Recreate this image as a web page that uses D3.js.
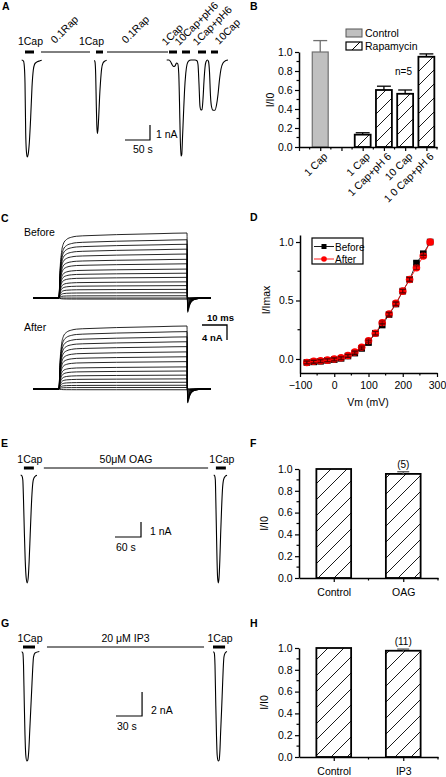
<!DOCTYPE html>
<html><head><meta charset="utf-8">
<script src="https://cdn.jsdelivr.net/npm/d3@7/dist/d3.min.js"></script>
<style>html,body{margin:0;padding:0;background:#fff;}svg{display:block;}</style>
</head><body>
<svg id="fig" width="446" height="777"></svg>
<script>
// ================= DATA =================
// Panel A : whole-cell current (time s, current nA)
const aTrace1 = [[1.4,0],[5,-0.07],[6.6,-0.4],[8,-1.53],[9.4,-4.87],[10.6,-6],[12.4,-6.47],[14.4,-6.27],[16.6,-5.53],[19.4,-3.8],[22,-1.8],[24.6,-0.67],[27,-0.3],[30,-0.17],[38,-0.05],[41.4,-0.01]];
const aTrace2 = [[146.6,-0.03],[148,-0.13],[149.4,-1.0],[150.6,-3.0],[151.6,-4.33],[152.8,-4.9],[154.2,-4.53],[155.6,-3.67],[157.2,-2.47],[159,-1.47],[161.2,-0.6],[164,-0.2],[168,-0.07],[171.4,-0.02]];
const aTrace3 = [[291.4,0],[296,0],[299,-0.1],[302,-0.3],[305,-0.43],[308,-0.4],[311,-0.2],[313.5,-0.25],[315.5,-0.9],[317,-2.8],[318.5,-5.2],[320,-6.4],[321.5,-6.3],[323,-5.2],[325,-3.6],[327,-2.1],[329.5,-0.9],[332,-0.3],[335,-0.08],[340,0],[348,0],[352,-0.05],[354,-0.3],[356,-1.6],[358,-3.1],[360,-3.33],[362,-3.3],[364,-2.6],[366,-1.4],[368,-0.5],[370,-0.12],[373,0],[375,-0.1],[377,-0.8],[379,-2.4],[381,-3.1],[384,-3.35],[388,-3.35],[391,-3.0],[394,-2.3],[397,-1.3],[400,-0.6],[404,-0.2],[410,-0.03],[414,0]];
const aAppLabels = ["1Cap","0.1Rap","1Cap","0.1Rap","1Cap","10Cap+pH6","1Cap+pH6","10Cap"];
const aAppStart  = [8,40,150,172,296,322,354,380];
const aAppEnd    = [26,138,164,294,312,338,370,394];
const aAppKind   = ["cap","rap","cap","rap","cap","cap","cap","cap"];
const aScaleTime = 50, aScaleCurrent = 1;
const aScaleLabels = ["1 nA","50 s"];

// Panel B : normalized current
const bCategories = ["1 Cap","1 Cap","1 Cap+pH 6","10 Cap","1 0 Cap+pH 6"];
const bPositions  = [1,3,4,5,6];
const bGroups     = ["Control","Rapamycin","Rapamycin","Rapamycin","Rapamycin"];
const bValues     = [1.0,0.13,0.60,0.56,0.95];
const bErrors     = [0.12,0.02,0.04,0.04,0.03];
const bYTicks     = [0,0.2,0.4,0.6,0.8,1.0];
const bLegend     = ["Control","Rapamycin"];
const bNote       = "n=5";

// Panel C : step-evoked current families (time ms, current nA)
const cAmpsBefore = [17.3,15.5,14.3,13.0,11.7,10.3,9.1,7.7,6.6,5.5,4.3,3.3,2.3,1.4,0.6,0.0,-0.3];
const cAmpsAfter  = [16.8,15.3,13.9,12.6,11.3,9.9,8.6,7.3,5.9,4.8,3.7,2.7,1.8,1.0,0.4,-0.2];
const cActTime = [0,0.4,1,1.7,3,5,7,12,23,40,51.2];
const cActFrac = [0,0.42,0.7,0.83,0.9,0.935,0.95,0.96,0.975,0.99,1.0];
const cTailTime = [51.45,52.2,53.2,55,58];
const cTailFrac = [-0.22,-0.12,-0.05,-0.015,0];
const cTimeRange = [-10.4,60.8];
const cScaleTime = 10, cScaleCurrent = 4;
const cLabels = ["Before","After","10 ms","4 nA"];

// Panel D : I-V relation
const dVoltage = [-80,-60,-40,-20,0,20,40,60,80,100,120,140,160,180,200,220,240,260,280];
const dBefore  = [-0.03,-0.025,-0.02,-0.012,-0.005,0.005,0.025,0.05,0.09,0.14,0.22,0.29,0.38,0.47,0.58,0.68,0.82,0.90,1.0];
const dAfter   = [-0.03,-0.02,-0.015,-0.01,0.0,0.01,0.03,0.06,0.10,0.155,0.22,0.31,0.385,0.475,0.58,0.68,0.78,0.88,1.0];
const dBeforeErr = [0.012,0.012,0.012,0.012,0.012,0.012,0.012,0.012,0.012,0.015,0.015,0.015,0.015,0.015,0.015,0.015,0.015,0.015,0.0];
const dAfterErr  = [0.012,0.012,0.012,0.012,0.012,0.012,0.012,0.012,0.012,0.015,0.015,0.015,0.015,0.015,0.015,0.015,0.015,0.015,0.0];
const dXTicks = [-100,0,100,200,300];
const dYTicks = [0,0.5,1.0];
const dLegend = ["Before","After"];

// Panel E : OAG (time s, current nA)
const eTrace1 = [[1.6,0],[4.6,-0.07],[6.5,-0.33],[8.1,-1.67],[9.9,-3.67],[12.0,-5.67],[14.3,-6.87],[16.6,-7.2],[18.9,-6.87],[21.2,-5.67],[23.5,-4.0],[25.8,-2.33],[28.2,-1.0],[30.7,-0.33],[34.6,-0.1],[39.2,-0.02]];
const eTrace2 = [[447.0,0],[449.3,-0.07],[450.7,-0.33],[451.8,-1.67],[453.2,-3.67],[454.6,-5.67],[456.0,-6.87],[457.6,-7.2],[459.2,-6.87],[461.1,-5.67],[462.9,-4.0],[465.0,-2.33],[467.1,-1.0],[469.6,-0.33],[473.1,-0.1],[477.7,-0.02]];
const eAppLabels = ["1Cap","50\u03bcM OAG","1Cap"];
const eAppStart = [9,55,452];
const eAppEnd   = [32,434,475];
const eAppKind  = ["cap","drug","cap"];
const eScaleTime = 60, eScaleCurrent = 1;
const eScaleLabels = ["1 nA","60 s"];

// Panel F
const fCategories = ["Control","OAG"];
const fValues = [1.0,0.955];
const fErrors = [0,0.02];
const fCounts = ["","(5)"];

// Panel G : IP3 (time s, current nA)
const gTrace1 = [[0.8,0.03],[2.1,-0.08],[2.9,-1.08],[3.7,-4.0],[4.6,-6.92],[5.5,-8.58],[6.7,-9.08],[7.8,-9.0],[9.0,-8.17],[10.1,-6.5],[11.2,-4.83],[12.3,-3.17],[13.4,-1.5],[14.4,-0.42],[16.1,-0.08],[21.1,0.04]];
const gTrace2 = [[221.4,0.03],[222.5,-0.08],[223.3,-1.08],[224.1,-4.0],[225.0,-6.92],[225.8,-8.58],[227.0,-9.08],[228.1,-9.0],[229.0,-8.17],[229.9,-6.5],[230.9,-4.83],[231.8,-3.17],[232.7,-1.5],[233.6,-0.42],[235.0,-0.08],[237.1,0.04]];
const gAppLabels = ["1Cap","20 \u03bcM IP3","1Cap"];
const gAppStart = [2.3,29.9,221];
const gAppEnd   = [16.1,210.7,234.9];
const gAppKind  = ["cap","drug","cap"];
const gScaleTime = 30, gScaleCurrent = 2;
const gScaleLabels = ["2 nA","30 s"];

// Panel H
const hCategories = ["Control","IP3"];
const hValues = [1.0,0.975];
const hErrors = [0,0.015];
const hCounts = ["","(11)"];

const fhYTicks = [0,0.2,0.4,0.6,0.8,1.0];

// ================= DRAWING =================
const svg = d3.select("#fig");
const FONT = "'Liberation Sans', Arial, Helvetica, sans-serif";
const FS = 10.5;

function txt(g,x,y,s,o={}){
  const t=g.append("text").attr("x",x).attr("y",y).text(s)
    .attr("font-family",FONT).attr("font-size",o.size||FS).attr("fill",o.fill||"#000")
    .attr("text-anchor",o.anchor||"start");
  if(o.bold) t.attr("font-weight","bold");
  if(o.rotate!=null) t.attr("transform",`rotate(${o.rotate},${x},${y})`);
  return t;
}
function seg(g,x1,y1,x2,y2,w,c){
  return g.append("line").attr("x1",x1).attr("y1",y1).attr("x2",x2).attr("y2",y2)
    .attr("stroke",c||"#000").attr("stroke-width",w||1);
}
const defs = svg.append("defs");
function hatch(id,s){
  const p=defs.append("pattern").attr("id",id).attr("patternUnits","userSpaceOnUse")
    .attr("width",s).attr("height",s);
  p.append("rect").attr("width",s).attr("height",s).attr("fill","#fff");
  p.append("path").attr("d",`M0,${s}L${s},0M${-s/4},${s/4}L${s/4},${-s/4}M${3*s/4},${5*s/4}L${5*s/4},${3*s/4}`)
    .attr("stroke","#000").attr("stroke-width",0.9);
}
hatch("hB",14); hatch("hF",16);

function leftAxis(x0,y,majors,minors,fmt){
  const g=svg.append("g").attr("transform",`translate(${x0},0)`).attr("color","#000");
  g.call(d3.axisLeft(y).tickValues(majors).tickSize(4).tickSizeOuter(0).tickPadding(2.5).tickFormat(fmt));
  g.select(".domain").attr("stroke-width",1.5);
  g.selectAll(".tick line").attr("stroke-width",1.2);
  g.selectAll("text").attr("font-family",FONT).attr("font-size",FS).attr("fill","#000");
  minors.forEach(v=>seg(g,0,y(v),-2.5,y(v),1.2));
  return g;
}
function bottomAxis(y0,x,majors,minors,fmt,pad){
  const g=svg.append("g").attr("transform",`translate(0,${y0})`).attr("color","#000");
  g.call(d3.axisBottom(x).tickValues(majors).tickSize(4).tickSizeOuter(0).tickPadding(pad==null?5:pad).tickFormat(fmt));
  g.select(".domain").attr("stroke-width",1.5);
  g.selectAll(".tick line").attr("stroke-width",1.2);
  g.selectAll("text").attr("font-family",FONT).attr("font-size",FS).attr("fill","#000");
  minors.forEach(v=>seg(g,x(v),0,x(v),2.5,1.2));
  return g;
}
function traceLine(x,y){
  return d3.line().x(d=>x(d[0])).y(d=>y(d[1])).curve(d3.curveMonotoneX);
}

// panel letters
[["A",2,10],["B",250,10],["C",1,222],["D",250,221],["E",1,447],["F",250,447],["G",1,627],["H",250,627]]
  .forEach(d=>txt(svg,d[1],d[2],d[0],{bold:true,size:10.5}));

// ---------- Panel A ----------
{
  const g=svg.append("g");
  const x=d3.scaleLinear().domain([0,420]).range([21,231]);
  const y=d3.scaleLinear().domain([0,-7]).range([60,165]);
  const ln=traceLine(x,y);
  [aTrace1,aTrace2,aTrace3].forEach(t=>g.append("path").attr("d",ln(t)).attr("fill","none").attr("stroke","#000").attr("stroke-width",1.1));
  const barY=52;
  aAppLabels.forEach((lab,i)=>{
    const cap=aAppKind[i]==="cap";
    seg(g,x(aAppStart[i]),barY,x(aAppEnd[i]),barY,cap?3:1);
  });
  const lay=[["h",(i)=>(x(aAppStart[i])+x(aAppEnd[i]))/2+1,45,"middle"],
             ["r",(i)=>x(aAppStart[i])+14,44],
             ["h",(i)=>x(aAppEnd[i])+1,45,"end"],
             ["r",(i)=>x(aAppStart[i])+19,44],
             ["r",(i)=>x(aAppStart[i])-3,46],
             ["r",(i)=>x(aAppStart[i])-3,46],
             ["r",(i)=>x(aAppStart[i])-1,46],
             ["r",(i)=>x(aAppStart[i])+8,45]];
  aAppLabels.forEach((lab,i)=>{
    const L=lay[i];
    if(L[0]==="h") txt(g,L[1](i),L[2],lab,{anchor:L[3]});
    else txt(g,L[1](i),L[2],lab,{rotate:-45});
  });
  const sx=125, sy=140;
  const w=x(aScaleTime)-x(0), h=y(-aScaleCurrent)-y(0);
  g.append("path").attr("d",`M${sx},${sy}H${sx+w}V${sy-h}`).attr("fill","none").attr("stroke","#000").attr("stroke-width",1.2);
  txt(g,sx+w+6,sy-2,aScaleLabels[0]);
  txt(g,sx+8,sy+13,aScaleLabels[1]);
}

// ---------- Panel B ----------
{
  const g=svg.append("g");
  const x=d3.scaleLinear().domain([0,6.5]).range([299,437]);
  const y=d3.scaleLinear().domain([0,1]).range([147,52]);
  const bw=x(0.75)-x(0);
  bValues.forEach((v,i)=>{
    const ctrl=bGroups[i]==="Control";
    const cx=x(bPositions[i]);
    g.append("rect").attr("x",cx-bw/2).attr("y",y(v)).attr("width",bw).attr("height",y(0)-y(v))
      .attr("fill",ctrl?"#c0c0c0":"url(#hB)").attr("stroke",ctrl?"#707070":"#000").attr("stroke-width",ctrl?1.2:1.8);
    const col=ctrl?"#707070":"#000";
    seg(g,cx,y(v),cx,y(v+bErrors[i]),1.3,col);
    seg(g,cx-bw/2+1,y(v+bErrors[i]),cx+bw/2-1,y(v+bErrors[i]),1.3,col);
  });
  leftAxis(299,y,bYTicks,[0.1,0.3,0.5,0.7,0.9],d3.format(".1f"));
  bottomAxis(147,x,[0,1,2,3,4,5,6],[0.5,1.5,2.5,3.5,4.5,5.5,6.5],()=>"");
  bCategories.forEach((c,i)=>txt(g,x(bPositions[i])+8,157,c,{anchor:"end",rotate:-45}));
  txt(g,274,100,"I/I0",{anchor:"middle",rotate:-90});
  g.append("rect").attr("x",346).attr("y",29).attr("width",16).attr("height",8).attr("fill","#c0c0c0").attr("stroke","#555").attr("stroke-width",1);
  g.append("rect").attr("x",346).attr("y",42).attr("width",16).attr("height",8).attr("fill","#fff").attr("stroke","#000").attr("stroke-width",1.2);
  seg(g,352,50,360,42,1);
  txt(g,365,37,bLegend[0]);
  txt(g,365,50,bLegend[1]);
  txt(g,395,75,bNote,{size:10});
}

// ---------- Panel C ----------
{
  const g=svg.append("g");
  const x=d3.scaleLinear().domain(cTimeRange).range([33,211]);
  const yB=d3.scaleLinear().domain([0,cAmpsBefore[0]]).range([298,233]);
  const yA=d3.scaleLinear().domain([0,cAmpsAfter[0]]).range([389,326]);
  function build(a){
    const pts=[[cTimeRange[0],0],[0,0]];
    cActTime.forEach((t,i)=>{ if(i>0) pts.push([t,a*cActFrac[i]]); });
    cTailTime.forEach((t,i)=>pts.push([t,a*cTailFrac[i]]));
    pts.push([cTimeRange[1],0]);
    return pts;
  }
  [[cAmpsBefore,yB],[cAmpsAfter,yA]].forEach(([amps,y])=>{
    const ln=traceLine(x,y);
    amps.forEach(a=>g.append("path").attr("d",ln(build(a))).attr("fill","none").attr("stroke","#000").attr("stroke-width",0.85));
  });
  txt(g,24,236,cLabels[0]);
  txt(g,24,331,cLabels[1]);
  const sx=202, sy=325;
  const w=x(cScaleTime)-x(0), h=yB(cScaleCurrent)-yB(0);
  g.append("path").attr("d",`M${sx},${sy}H${sx+w}V${sy-h}`).attr("fill","none").attr("stroke","#000").attr("stroke-width",1.3);
  txt(g,207,321,cLabels[2],{bold:true,size:9.5});
  txt(g,202,341,cLabels[3],{bold:true,size:9.5});
}

// ---------- Panel D ----------
{
  const g=svg.append("g");
  const x=d3.scaleLinear().domain([-100,300]).range([300,437]);
  const y=d3.scaleLinear().domain([-0.12,1.06]).range([373,235]);
  const ln=d3.line().x((d,i)=>x(dVoltage[i])).y(d=>y(d));
  g.append("path").attr("d",ln(dBefore)).attr("fill","none").attr("stroke","#000").attr("stroke-width",0.8);
  g.append("path").attr("d",ln(dAfter)).attr("fill","none").attr("stroke","#f00").attr("stroke-width",0.8);
  dBefore.forEach((v,i)=>g.append("rect").attr("x",x(dVoltage[i])-3.3).attr("y",y(v)-3.3).attr("width",6.6).attr("height",6.6).attr("fill","#000"));
  dAfter.forEach((v,i)=>g.append("circle").attr("cx",x(dVoltage[i])).attr("cy",y(v)).attr("r",3.8).attr("fill","#f00"));
  [[dBefore,dBeforeErr,"#000"],[dAfter,dAfterErr,"#600"]].forEach(([vals,errs,c])=>{
    vals.forEach((v,i)=>{
      if(!errs[i]) return;
      const cx=x(dVoltage[i]);
      seg(g,cx,y(v-errs[i]),cx,y(v+errs[i]),0.7,c);
      seg(g,cx-3,y(v-errs[i]),cx+3,y(v-errs[i]),0.7,c);
      seg(g,cx-3,y(v+errs[i]),cx+3,y(v+errs[i]),0.7,c);
    });
  });
  leftAxis(300,y,dYTicks,[0.25,0.75],d3.format(".1f"));
  bottomAxis(373,x,dXTicks,[-50,50,150,250],d3.format("d"));
  txt(g,270,300,"I/Imax",{anchor:"middle",rotate:-90});
  txt(g,368,406,"Vm (mV)",{anchor:"middle"});
  g.append("rect").attr("x",312).attr("y",238).attr("width",51).attr("height",26).attr("fill","#fff").attr("stroke","#000").attr("stroke-width",1.2);
  seg(g,314,246.5,334,246.5,0.9,"#000");
  g.append("rect").attr("x",321.5).attr("y",244).attr("width",5).attr("height",5).attr("fill","#000");
  seg(g,314,259,334,259,0.9,"#f00");
  g.append("circle").attr("cx",324).attr("cy",259).attr("r",2.8).attr("fill","#f00");
  txt(g,335,250.5,dLegend[0],{size:10});
  txt(g,335,263,dLegend[1],{size:10});
}

// ---------- Panels E & G (traces) ----------
function tracePanel(cfg){
  const g=svg.append("g");
  const x=d3.scaleLinear().domain(cfg.xd).range(cfg.xr);
  const y=d3.scaleLinear().domain(cfg.yd).range(cfg.yr);
  const ln=traceLine(x,y);
  cfg.traces.forEach(t=>g.append("path").attr("d",ln(t)).attr("fill","none").attr("stroke","#000").attr("stroke-width",1.1));
  cfg.labels.forEach((lab,i)=>{
    const cap=cfg.kind[i]==="cap";
    seg(g,x(cfg.start[i]),cfg.barY,x(cfg.end[i]),cfg.barY,cap?3:1);
    txt(g,(x(cfg.start[i])+x(cfg.end[i]))/2+(cap?1:0),cfg.barY-5,lab,{anchor:"middle"});
  });
  const w=x(cfg.st)-x(0), h=y(-cfg.sc)-y(0);
  g.append("path").attr("d",`M${cfg.sx},${cfg.sy}H${cfg.sx+w}V${cfg.sy-h}`).attr("fill","none").attr("stroke","#000").attr("stroke-width",1.2);
  txt(g,cfg.sx+w+9,cfg.sy-2,cfg.sl[0]);
  txt(g,cfg.sx+1,cfg.sy+14,cfg.sl[1]);
}
tracePanel({xd:[0,485],xr:[20,230.2],yd:[0,-8],yr:[475,595],traces:[eTrace1,eTrace2],
  labels:eAppLabels,start:eAppStart,end:eAppEnd,kind:eAppKind,barY:468,
  st:eScaleTime,sc:eScaleCurrent,sx:115,sy:537,sl:eScaleLabels});
tracePanel({xd:[0,240],xr:[21,229.5],yd:[0,-10],yr:[652,772],traces:[gTrace1,gTrace2],
  labels:gAppLabels,start:gAppStart,end:gAppEnd,kind:gAppKind,barY:647,
  st:gScaleTime,sc:gScaleCurrent,sx:116,sy:716,sl:gScaleLabels});

// ---------- Panels F & H (bars) ----------
function barPanel(cats,vals,errs,counts,y0,y1){
  const g=svg.append("g");
  const x=d3.scaleLinear().domain([0.5,2.5]).range([299,438]);
  const y=d3.scaleLinear().domain([0,1]).range([y0,y1]);
  const bw=x(1)-x(0.5);
  vals.forEach((v,i)=>{
    const cx=x(i+1);
    g.append("rect").attr("x",cx-bw/2).attr("y",y(v)).attr("width",bw).attr("height",y(0)-y(v))
      .attr("fill","url(#hF)").attr("stroke","#000").attr("stroke-width",1.8);
    if(errs[i]>0){
      seg(g,cx,y(v),cx,y(v+errs[i]),1.2,"#606060");
      seg(g,cx-6,y(v+errs[i]),cx+6,y(v+errs[i]),1.4,"#606060");
    }
    if(counts[i]) txt(g,cx,y(v+errs[i])-4,counts[i],{anchor:"middle",size:10});
  });
  leftAxis(299,y,fhYTicks,[0.1,0.3,0.5,0.7,0.9],d3.format(".1f"));
  bottomAxis(y0,x,[1,2],[1.5,2.5],(d,i)=>cats[i],7);
  txt(g,268,(y0+y1)/2,"I/I0",{anchor:"middle",rotate:-90});
}
barPanel(fCategories,fValues,fErrors,fCounts,578,469);
barPanel(hCategories,hValues,hErrors,hCounts,757,648);
</script>
</body></html>
